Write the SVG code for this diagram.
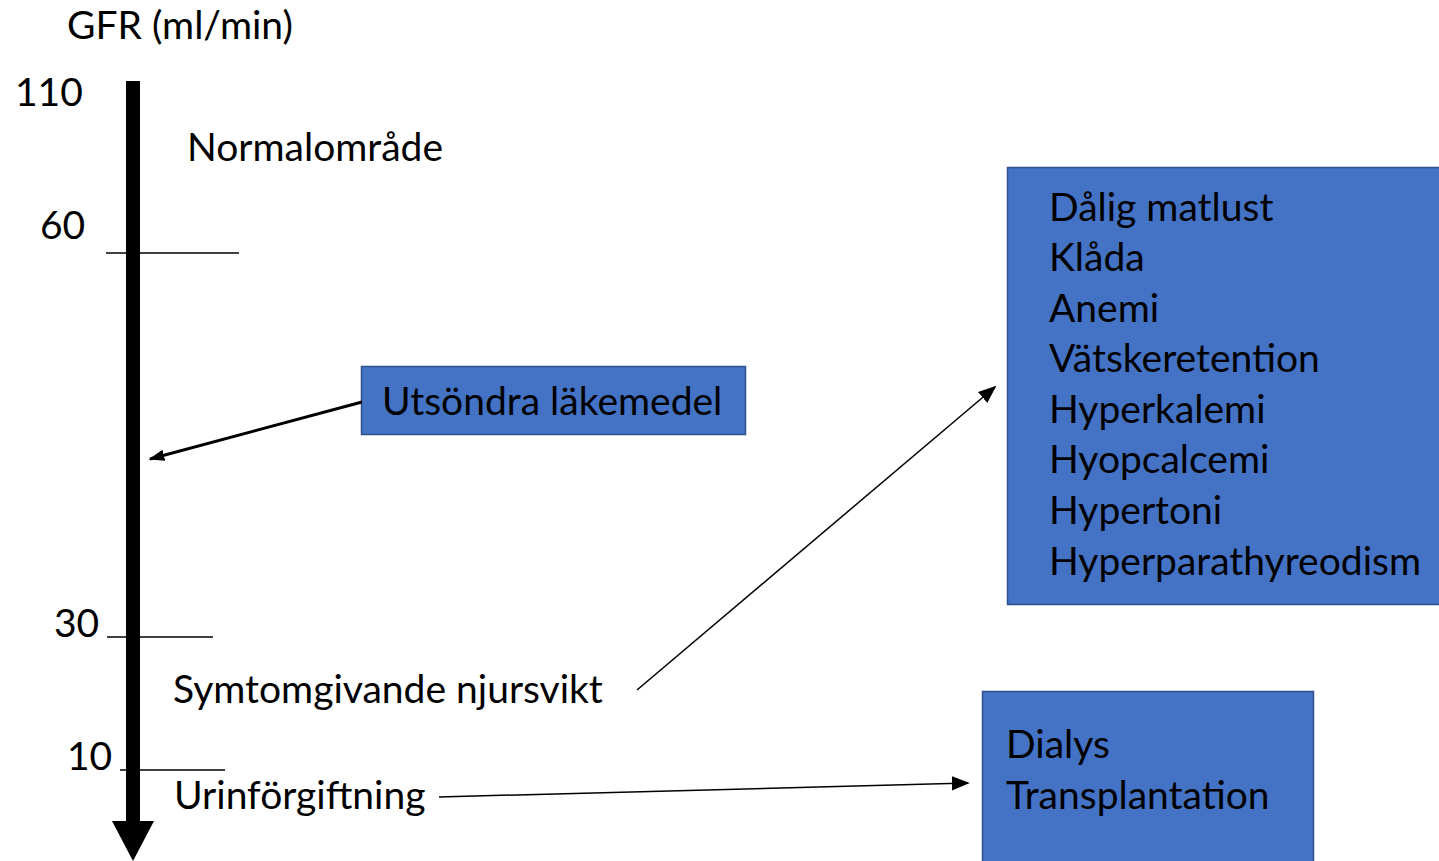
<svg xmlns="http://www.w3.org/2000/svg" width="1439" height="861" viewBox="0 0 1439 861">
<defs>
<style>
text{font-family:Lato,"Open Sans","Liberation Sans",sans-serif;font-size:39px;fill:#000}
.box{fill:#4472C4;stroke:#2F528F;stroke-width:1.5}
.tick{stroke:#000;stroke-width:1.5}
.conn{stroke:#000;fill:none}
</style>
<marker id="ah" viewBox="0 0 10 10" refX="9" refY="5" markerWidth="16" markerHeight="16" markerUnits="userSpaceOnUse" orient="auto">
<path d="M0,1.5 L10,5 L0,8.5 z" fill="#000"/>
</marker>
<marker id="ahs" viewBox="0 0 10 10" refX="9" refY="5" markerWidth="18" markerHeight="18" markerUnits="userSpaceOnUse" orient="auto">
<path d="M0,1 L10,5 L0,9 z" fill="#000"/>
</marker>
</defs>
<rect width="1439" height="861" fill="#fff"/>
<g id="axis">
<text x="67" y="39">GFR (ml/min)</text>
<rect x="126" y="81" width="14" height="741" fill="#000"/>
<polygon points="112,821 154,821 133,861" fill="#000"/>
<line class="tick" x1="106" y1="253" x2="239" y2="253"/>
<line class="tick" x1="107" y1="637" x2="213" y2="637"/>
<line class="tick" x1="120" y1="770" x2="225" y2="770"/>
<text x="15" y="106">110</text>
<text x="40" y="239">60</text>
<text x="54" y="637">30</text>
<text x="67" y="770">10</text>
<text x="187" y="161">Normalområde</text>
<text x="173" y="703">Symtomgivande njursvikt</text>
<text x="174" y="809">Urinförgiftning</text>
</g>
<g id="node-drugs">
<rect class="box" x="361.5" y="366.5" width="384" height="68"/>
<text x="382" y="415">Utsöndra läkemedel</text>
</g>
<g id="node-symptoms">
<rect class="box" x="1007.5" y="167.5" width="440" height="437"/>
<text x="1049" y="221">Dålig matlust</text>
<text x="1049" y="271">Klåda</text>
<text x="1049" y="322">Anemi</text>
<text x="1049" y="372">Vätskeretention</text>
<text x="1049" y="423">Hyperkalemi</text>
<text x="1049" y="473">Hyopcalcemi</text>
<text x="1049" y="524">Hypertoni</text>
<text x="1049" y="575">Hyperparathyreodism</text>
</g>
<g id="node-treatment">
<rect class="box" x="982.5" y="691.5" width="331" height="180"/>
<text x="1006" y="758">Dialys</text>
<text x="1006" y="809">Transplantation</text>
</g>
<g id="connectors">
<line class="conn" x1="362" y1="402" x2="150" y2="459" stroke-width="3" marker-end="url(#ah)"/>
<line class="conn" x1="637" y1="690" x2="995" y2="387" stroke-width="1.5" marker-end="url(#ahs)"/>
<line class="conn" x1="439" y1="797" x2="968" y2="783" stroke-width="1.5" marker-end="url(#ahs)"/>
</g>
</svg>
